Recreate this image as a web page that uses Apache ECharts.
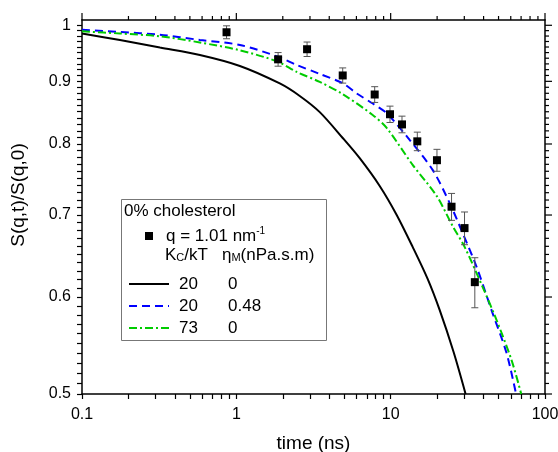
<!DOCTYPE html>
<html>
<head>
<meta charset="utf-8">
<script src="https://cdn.jsdelivr.net/npm/echarts@6/dist/echarts.min.js"></script>
<style>
html, body { margin: 0; padding: 0; background: #fff; }
#chart { width: 558px; height: 452px; }
</style>
</head>
<body>
<div id="chart"></div>
<script>
// measured points, q = 1.01 nm^-1
const expTime = [0.864, 1.865, 2.873, 4.89, 7.88, 9.90, 11.84, 14.88, 19.95, 24.8, 30.1, 35.1];
const expS = [0.987, 0.938, 0.956, 0.910, 0.878, 0.846, 0.830, 0.804, 0.776, 0.711, 0.683, 0.617];
const expErr = [0.012, 0.012, 0.013, 0.013, 0.013, 0.013, 0.013, 0.014, 0.016, 0.018, 0.021, 0.029];

// Kc/kT = 20, etaM = 0
const solidTime = [0.1, 0.1762, 0.3199, 0.5805, 1.054, 1.912, 2.576, 3.472, 4.89, 6.301, 8.49, 10.94, 13.88, 17.36, 20.76, 25.57, 30.58];
const solidS = [0.9847, 0.9727, 0.9591, 0.9457, 0.9264, 0.8964, 0.8756, 0.8494, 0.8091, 0.7789, 0.7393, 0.7001, 0.6593, 0.6208, 0.5856, 0.5410, 0.5];

// Kc/kT = 20, etaM = 0.48
const dashTime = [0.1, 0.1762, 0.3199, 0.5805, 1.054, 1.856, 2.464, 3.472, 4.89, 6.025, 7.646, 9.421, 13.27, 18.70, 24.09, 29.24, 36.03, 45.73, 56.35, 64.93];
const dashS = [0.9918, 0.9875, 0.9825, 0.9728, 0.9637, 0.9427, 0.9281, 0.9126, 0.8968, 0.8797, 0.8633, 0.8476, 0.8061, 0.7620, 0.7161, 0.6769, 0.6350, 0.5821, 0.5400, 0.5];

// Kc/kT = 73, etaM = 0
const dashDotTime = [0.1, 0.1762, 0.3199, 0.5805, 1.054, 1.856, 2.464, 3.472, 4.89, 7.646, 9.421, 13.88, 19.85, 25.19, 30.13, 39.4, 48.55, 60.71, 70.14];
const dashDotS = [0.9888, 0.9847, 0.9795, 0.9682, 0.9541, 0.9339, 0.9160, 0.8990, 0.8785, 0.8449, 0.8245, 0.7692, 0.7256, 0.6858, 0.6593, 0.6116, 0.5745, 0.5329, 0.5];

// axes and ticks
const xMin = 0.1, xMax = 100;
const yMin = 0.5, yMax = 1.01;
const xMajor = [0.1, 1, 10, 100];
const xMinor = [0.2, 0.3, 0.4, 0.5, 0.6, 0.7, 0.8, 0.9, 2, 3, 4, 5, 6, 7, 8, 9, 20, 30, 40, 50, 60, 70, 80, 90];
const yMajor = [0.5, 0.6, 0.7, 0.8, 0.9, 1];
const yMinor = [0.51, 0.52, 0.53, 0.54, 0.55, 0.56, 0.57, 0.58, 0.59,
	0.61, 0.62, 0.63, 0.64, 0.65, 0.66, 0.67, 0.68, 0.69,
	0.71, 0.72, 0.73, 0.74, 0.75, 0.76, 0.77, 0.78, 0.79,
	0.81, 0.82, 0.83, 0.84, 0.85, 0.86, 0.87, 0.88, 0.89,
	0.91, 0.92, 0.93, 0.94, 0.95, 0.96, 0.97, 0.98, 0.99];

const FONT = "'Liberation Sans', Arial, sans-serif";
const MAJOR_LEN = 7;
const MINOR_LEN = 4;

function zip(a, b) {
	return a.map((v, i) => [v, b[i]]);
}

function fmt(v) {
	return String(parseFloat(Number(v).toPrecision(6)));
}

function makeAxis(dim, position, showLabels) {
	let major = dim === "x" ? xMajor : yMajor;
	let minor = dim === "x" ? xMinor : yMinor;
	let ax = {
		type: "log",
		logBase: 10,
		min: dim === "x" ? xMin : yMin,
		max: dim === "x" ? xMax : yMax,
		position: position,
		axisLine: { show: true, lineStyle: { color: "#000", width: 1.5 } },
		axisTick: {
			show: showLabels,
			inside: false,
			length: 5,
			customValues: major.concat(minor),
			lineStyle: { color: "#000", width: 1.2 }
		},
		axisLabel: { show: false },
		splitLine: { show: false },
		minorTick: { show: false }
	};
	if (showLabels) {
		ax.axisLabel = {
			show: true,
			customValues: major,
			formatter: fmt,
			margin: dim === "x" ? 13 : 11,
			fontSize: 16,
			fontFamily: FONT,
			color: "#000"
		};
	}
	return ax;
}

let xBottom = makeAxis("x", "bottom", true);
xBottom.name = "time (ns)";
xBottom.nameLocation = "middle";
xBottom.nameGap = 40;
xBottom.nameTextStyle = { fontSize: 19, fontFamily: FONT, color: "#000" };

let yLeft = makeAxis("y", "left", true);
yLeft.name = "S(q,t)/S(q,0)";
yLeft.nameLocation = "middle";
yLeft.nameGap = 54;
yLeft.nameTextStyle = { fontSize: 19, fontFamily: FONT, color: "#000", padding: [0, 0, 0, 24] };

const legendRich = {
	t: { fontSize: 17, fontFamily: FONT, color: "#000", padding: [0, 0, 0, 8] },
	sup: { fontSize: 10, fontFamily: FONT, color: "#000", verticalAlign: "top" },
	c1: { width: 49, padding: [0, 0, 0, 5], fontSize: 17, fontFamily: FONT, color: "#000" },
	c2: { fontSize: 17, fontFamily: FONT, color: "#000" }
};

const lineCommon = {
	type: "line",
	showSymbol: false,
	symbol: "none",
	smooth: 0.3,
	z: 2
};

const legendGraphics = [
	{
		type: "rect",
		z: 0,
		shape: { x: 121.5, y: 199.5, width: 205, height: 141 },
		style: { fill: "#fff", stroke: "#777", lineWidth: 1 }
	},
	{
		type: "text",
		z: 10,
		style: {
			text: "0% cholesterol",
			x: 124,
			y: 211,
			verticalAlign: "middle",
			fill: "#000",
			font: "17px " + FONT
		}
	},
	{
		type: "text",
		z: 10,
		style: {
			text: "K{sub|C}/kT",
			x: 165,
			y: 255,
			verticalAlign: "middle",
			fill: "#000",
			font: "17px " + FONT,
			rich: { sub: { fontSize: 11, fontFamily: FONT, fill: "#000", verticalAlign: "bottom" } }
		}
	},
	{
		type: "text",
		z: 10,
		style: {
			text: "η{sub|M}(nPa.s.m)",
			x: 222,
			y: 255,
			verticalAlign: "middle",
			fill: "#000",
			font: "17px " + FONT,
			rich: { sub: { fontSize: 11, fontFamily: FONT, fill: "#000", verticalAlign: "bottom" } }
		}
	}
];

const option = {
	animation: false,
	backgroundColor: "#fff",
	grid: { left: 82, right: 13, top: 20, bottom: 58, outerBoundsMode: "none", containLabel: false },
	xAxis: [xBottom, makeAxis("x", "top", false)],
	yAxis: [yLeft, makeAxis("y", "right", false)],
	legend: [
		{
			data: ["q"],
			left: 140,
			top: 221,
			itemWidth: 8,
			itemHeight: 8,
			selectedMode: false,
			formatter: function() {
				return "{t|q = 1.01 nm}{sup|-1}";
			},
			textStyle: { fontSize: 17, fontFamily: FONT, color: "#000", lineHeight: 20, rich: legendRich }
		},
		{
			data: ["a", "b", "c"],
			orient: "vertical",
			left: 123,
			top: 269,
			itemWidth: 40,
			itemHeight: 14,
			itemGap: 2,
			selectedMode: false,
			itemStyle: { color: "rgba(0,0,0,0)", borderColor: "rgba(0,0,0,0)", borderWidth: 0 },
			formatter: function(name) {
				let cols = { a: ["20", "0"], b: ["20", "0.48"], c: ["73", "0"] }[name];
				return "{c1|" + cols[0] + "}{c2|" + cols[1] + "}";
			},
			textStyle: { fontSize: 17, fontFamily: FONT, color: "#000", lineHeight: 20, rich: legendRich }
		}
	],
	graphic: legendGraphics,
	series: [
		Object.assign({}, lineCommon, {
			name: "a",
			data: zip(solidTime, solidS),
			itemStyle: { color: "#000" },
			lineStyle: { color: "#000", width: 2 }
		}),
		Object.assign({}, lineCommon, {
			name: "b",
			data: zip(dashTime, dashS),
			itemStyle: { color: "#0000ff" },
			lineStyle: { color: "#0000ff", width: 2, type: [8, 5] }
		}),
		Object.assign({}, lineCommon, {
			name: "c",
			data: zip(dashDotTime, dashDotS),
			itemStyle: { color: "#00cc00" },
			lineStyle: { color: "#00cc00", width: 2, type: [8, 3, 2, 3] }
		}),
		{
			name: "err",
			type: "custom",
			data: expTime.map((t, i) => [t, expS[i], expErr[i]]),
			encode: { x: 0, y: 1 },
			z: 3,
			renderItem: function(params, api) {
				let x = api.value(0);
				let y = api.value(1);
				let e = api.value(2);
				let hi = api.coord([x, y + e]);
				let lo = api.coord([x, y - e]);
				let style = { stroke: "#555", lineWidth: 1 };
				return {
					type: "group",
					children: [
						{ type: "line", shape: { x1: hi[0], y1: hi[1], x2: lo[0], y2: lo[1] }, style: style },
						{ type: "line", shape: { x1: hi[0] - 3.5, y1: hi[1], x2: hi[0] + 3.5, y2: hi[1] }, style: style },
						{ type: "line", shape: { x1: lo[0] - 3.5, y1: lo[1], x2: lo[0] + 3.5, y2: lo[1] }, style: style }
					]
				};
			}
		},
		{
			name: "q",
			type: "scatter",
			data: zip(expTime, expS),
			symbol: "rect",
			symbolSize: 8,
			itemStyle: { color: "#000", opacity: 1 },
			z: 4
		}
	]
};

let chart = echarts.init(document.getElementById("chart"));
chart.setOption(option);

// outward ticks for the top and right frame sides, positioned through the axes' scales
function toNum(r) {
	return Number(Array.isArray(r) ? r[0] : r);
}
function addTicks() {
	let px = v => toNum(chart.convertToPixel({ xAxisIndex: 0 }, v));
	let py = v => toNum(chart.convertToPixel({ yAxisIndex: 0 }, v));
	let gRight = px(xMax), gTop = py(yMax);
	if (!isFinite(gRight) || !isFinite(gTop)) return;
	let ticks = [];
	function tick(x1, y1, x2, y2) {
		if (![x1, y1, x2, y2].every(isFinite)) return;
		ticks.push({
			type: "line",
			silent: true,
			z: 20,
			shape: { x1: x1, y1: y1, x2: x2, y2: y2 },
			style: { stroke: "#000", lineWidth: 1.2 }
		});
	}
	for (let v of xMajor) tick(px(v), gTop, px(v), gTop - MAJOR_LEN);
	for (let v of xMinor) tick(px(v), gTop, px(v), gTop - MINOR_LEN);
	for (let v of yMajor) tick(gRight, py(v), gRight + MAJOR_LEN, py(v));
	for (let v of yMinor) tick(gRight, py(v), gRight + MINOR_LEN, py(v));
	chart.setOption({ graphic: legendGraphics.concat(ticks) });
}
try {
	addTicks();
} catch (e) {
	// leave the frame without top/right ticks
}
</script>
</body>
</html>
